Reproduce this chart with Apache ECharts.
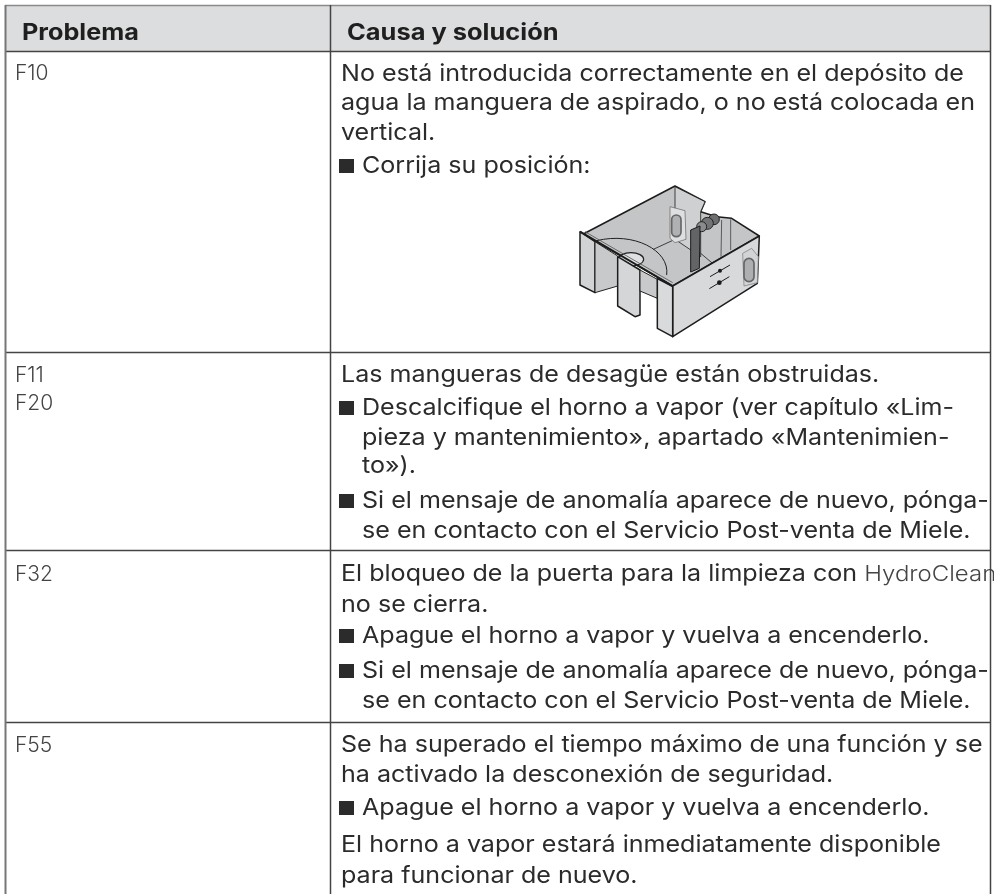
<!DOCTYPE html>
<html>
<head>
<meta charset="utf-8">
<style>html,body{margin:0;padding:0;background:#fff}#main{width:994px;height:894px}</style>
<script src="https://cdn.jsdelivr.net/npm/echarts@6/dist/echarts.min.js"></script>
</head>
<body>
<div id="main"></div>
<script>
// tabla de anomalias
var headers = ['Problema', 'Causa y solución'];
var codesF10 = ['F10'];
var codesF11 = ['F11', 'F20'];
var codesF32 = ['F32'];
var codesF55 = ['F55'];
// '* ' = linea con vineta, '> ' = continuacion sangrada
var causeF10 = [
  'No está introducida correctamente en el depósito de',
  'agua la manguera de aspirado, o no está colocada en',
  'vertical.',
  '* Corrija su posición:'
];
var causeF11 = [
  'Las mangueras de desagüe están obstruidas.',
  '* Descalcifique el horno a vapor (ver capítulo «Lim-',
  '> pieza y mantenimiento», apartado «Mantenimien-',
  '> to»).',
  '* Si el mensaje de anomalía aparece de nuevo, pónga-',
  '> se en contacto con el Servicio Post-venta de Miele.'
];
var causeF32 = [
  'El bloqueo de la puerta para la limpieza con {l|HydroClean}',
  'no se cierra.',
  '* Apague el horno a vapor y vuelva a encenderlo.',
  '* Si el mensaje de anomalía aparece de nuevo, pónga-',
  '> se en contacto con el Servicio Post-venta de Miele.'
];
var causeF55 = [
  'Se ha superado el tiempo máximo de una función y se',
  'ha activado la desconexión de seguridad.',
  '* Apague el horno a vapor y vuelva a encenderlo.',
  'El horno a vapor estará inmediatamente disponible',
  'para funcionar de nuevo.'
];

var FONT = 'Inter';
var TEXT = '#2b2b2b';
var LINE = '#444';
var RIGHT = 990.5;
var elements = [];

function addText(str, x, base, size, weight, color, sx) {
  elements.push({
    type: 'text', x: x, y: base, z: 5, scaleX: sx || 1,
    style: {
      text: str, fontFamily: FONT, fontSize: size, fontWeight: weight, fill: color || TEXT,
      verticalAlign: 'bottom', lineHeight: size,
      rich: { l: { fontFamily: FONT, fontSize: size - 1, fontWeight: 300, fill: '#444', lineHeight: size } }
    }
  });
}
function addCause(lines, bases) {
  lines.forEach(function (s, i) {
    var kind = s.slice(0, 2);
    if (kind === '* ') {
      elements.push({ type: 'rect', shape: { x: 339, y: bases[i] - 14, width: 15, height: 14 }, style: { fill: '#2b2b2b' } });
      addText(s.slice(2), 362, bases[i] + 5, 23, 400, TEXT, 1.09);
    } else if (kind === '> ') {
      addText(s.slice(2), 362, bases[i] + 5, 23, 400, TEXT, 1.09);
    } else {
      addText(s, 341, bases[i] + 5, 23, 400, TEXT, 1.09);
    }
  });
}
function addCode(str, base) {
  addText(str, 15, base + 4, 21, 300, '#444', 1);
}
function hline(y, color) {
  elements.push({ type: 'line', z: 3, shape: { x1: 5, y1: y, x2: RIGHT, y2: y }, style: { stroke: color || LINE, lineWidth: 1.5 } });
}
function vline(x, color, w) {
  elements.push({ type: 'line', z: 3, shape: { x1: x, y1: 5, x2: x, y2: 894 }, style: { stroke: color || LINE, lineWidth: w || 1.5 } });
}

// cabecera y lineas de la tabla
elements.push({ type: 'rect', shape: { x: 5, y: 5, width: RIGHT - 5, height: 46 }, style: { fill: '#dcddde' } });
hline(5.5, '#8a8a8a');
hline(51.5);
hline(352.5);
hline(550.5);
hline(722.5);
vline(5.5, '#777', 2);
vline(330.5);
vline(RIGHT);

addText(headers[0], 22, 44, 22.5, 700, '#1f1f1f', 1.12);
addText(headers[1], 347, 44, 22.5, 700, '#1f1f1f', 1.13);

addCode(codesF10[0], 80);
addCode(codesF11[0], 382);
addCode(codesF11[1], 410);
addCode(codesF32[0], 581);
addCode(codesF55[0], 752);

addCause(causeF10, [81, 110, 140, 173]);
addCause(causeF11, [382, 415, 445, 473, 508, 538]);
addCause(causeF32, [581, 612, 643, 678, 708]);
addCause(causeF55, [752, 782, 815, 852, 883]);

// dibujo del deposito de agua, en coordenadas x3
function poly(pts, fill, stroke, w) {
  return { type: 'polygon', shape: { points: pts }, style: { fill: fill || 'none', stroke: stroke || '#1c1c1c', lineWidth: w === undefined ? 4.5 : w, lineJoin: 'round' } };
}
function seg(pts, stroke, w) {
  return { type: 'polyline', shape: { points: pts }, style: { fill: 'none', stroke: stroke || '#1c1c1c', lineWidth: w || 3 } };
}
var tank = [
  // interior
  poly([[190, 222], [465, 78], [555, 125], [542, 155], [590, 170], [635, 175], [718, 228], [458, 378]], '#c4c5c6'),
  poly([[465, 80], [555, 125], [542, 155], [542, 290], [465, 238]], '#cfd0d1', '#222', 2.5),
  seg([[465, 238], [400, 268]], '#222', 2.5),
  seg([[542, 280], [580, 312]], '#222', 2.5),
  seg([[605, 180], [603, 290]], '#444', 2.5),
  seg([[632, 178], [632, 270]], '#444', 2.5),
  // disco del fondo
  { type: 'bezierCurve', shape: { x1: 230, y1: 242, cpx1: 340, cpy1: 215, cpx2: 450, cpy2: 270, x2: 440, y2: 345 }, style: { fill: 'none', stroke: '#222', lineWidth: 3 } },
  { type: 'ellipse', shape: { cx: 333, cy: 298, rx: 38, ry: 20 }, style: { fill: '#dfe0e1', stroke: '#222', lineWidth: 3.5 } },
  // flotador trasero
  poly([[450, 140], [495, 152], [498, 238], [465, 248], [450, 235]], '#dedfe0', '#777', 2.5),
  { type: 'rect', shape: { x: 455, y: 165, width: 28, height: 65, r: 14 }, style: { fill: '#b0b1b2', stroke: '#666', lineWidth: 5 } },
  // manguera
  { type: 'circle', shape: { cx: 582, cy: 178, r: 16 }, style: { fill: '#6d6e6f', stroke: '#222', lineWidth: 3 } },
  { type: 'circle', shape: { cx: 562, cy: 190, r: 18 }, style: { fill: '#737475', stroke: '#222', lineWidth: 3 } },
  { type: 'circle', shape: { cx: 545, cy: 200, r: 15 }, style: { fill: '#8a8b8c', stroke: '#222', lineWidth: 3 } },
  poly([[512, 210], [540, 198], [538, 325], [512, 336]], '#636465', '#1c1c1c', 3),
  // pared frontal derecha
  poly([[458, 378], [718, 228], [712, 370], [458, 530]], '#d8d9da'),
  seg([[570, 350], [630, 315]], '#1c1c1c', 3),
  seg([[568, 386], [628, 350]], '#1c1c1c', 3),
  { type: 'circle', shape: { cx: 600, cy: 332, r: 6 }, style: { fill: '#1c1c1c' } },
  { type: 'circle', shape: { cx: 598, cy: 368, r: 7 }, style: { fill: '#1c1c1c' } },
  poly([[668, 280], [695, 265], [715, 290], [712, 368], [672, 378]], '#d3d4d5', '#888', 2.5),
  { type: 'rect', shape: { x: 672, y: 295, width: 30, height: 70, r: 15 }, style: { fill: '#aeafb0', stroke: '#666', lineWidth: 5 } },
  // pared frontal izquierda
  poly([[180, 215], [225, 245], [225, 398], [180, 375]], '#d2d3d4'),
  poly([[225, 245], [293, 288], [293, 378], [225, 398]], '#c8c9ca', '#222', 3),
  poly([[293, 290], [360, 330], [360, 465], [345, 470], [293, 438]], '#d5d6d7'),
  poly([[360, 330], [412, 358], [412, 415], [360, 393]], '#c8c9ca', '#222', 3),
  poly([[412, 356], [458, 380], [458, 530], [412, 505]], '#d9dadb'),
  seg([[180, 215], [458, 378]], '#1c1c1c', 6),
  seg([[195, 215], [458, 368]], '#555', 2.5)
];
elements.push({ type: 'group', x: 520, y: 160, scaleX: 1 / 3, scaleY: 1 / 3, z: 4, children: tank });

var chart = echarts.init(document.getElementById('main'), null, { renderer: 'canvas' });
chart.setOption({
  animation: false,
  backgroundColor: '#fff',
  graphic: { elements: elements }
});
</script>
</body>
</html>
